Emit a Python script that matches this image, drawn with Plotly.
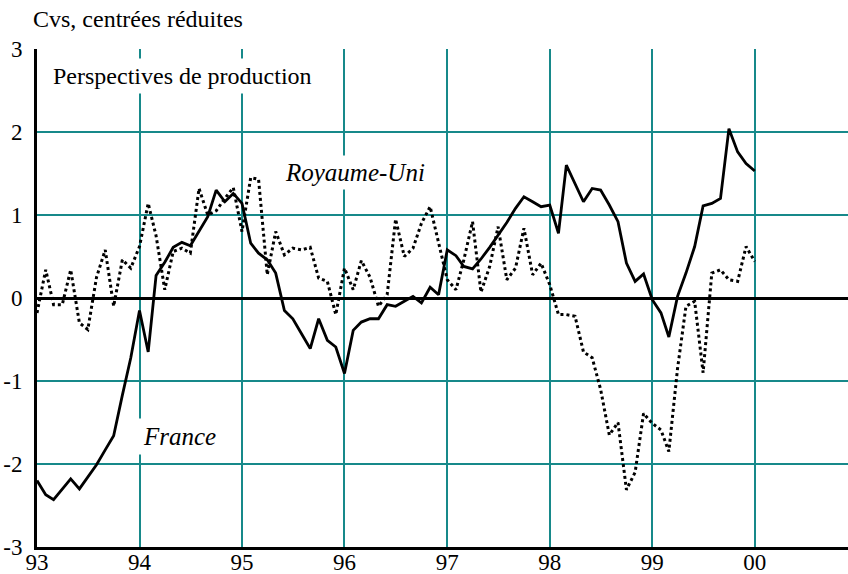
import plotly.graph_objects as go
import pandas as pd

# Enquete mensuelle, janvier 1993 - janvier 2000
mois = pd.date_range("1993-01-01", periods=85, freq="MS")

france = [-2.20, -2.37, -2.43, -2.30, -2.18, -2.30, -2.15, -2.01, -1.83, -1.66, -1.17, -0.72,
          -0.15, -0.65, 0.27, 0.43, 0.61, 0.67, 0.63, 0.80, 0.98, 1.30, 1.16, 1.26,
          1.14, 0.66, 0.54, 0.46, 0.30, -0.15, -0.25, -0.43, -0.61, -0.25, -0.51, -0.59,
          -0.91, -0.39, -0.29, -0.25, -0.25, -0.08, -0.10, -0.04, 0.02, -0.06, 0.13, 0.04,
          0.58, 0.51, 0.38, 0.35, 0.47, 0.61, 0.75, 0.91, 1.08, 1.22, 1.16, 1.10,
          1.12, 0.78, 1.60, 1.38, 1.16, 1.32, 1.30, 1.12, 0.92, 0.42, 0.20, 0.29,
          -0.02, -0.18, -0.47, 0.02, 0.30, 0.62, 1.11, 1.14, 1.20, 2.04, 1.76, 1.62,
          1.53]

royaume_uni = [-0.18, 0.34, -0.08, -0.08, 0.34, -0.30, -0.38, 0.25, 0.58, -0.10, 0.46, 0.36,
               0.62, 1.14, 0.75, 0.10, 0.56, 0.60, 0.54, 1.32, 1.00, 1.05, 1.20, 1.33,
               0.80, 1.45, 1.43, 0.28, 0.80, 0.52, 0.60, 0.58, 0.61, 0.24, 0.20, -0.20,
               0.36, 0.10, 0.45, 0.25, -0.10, 0.04, 0.95, 0.50, 0.60, 0.90, 1.10, 0.68,
               0.22, 0.10, 0.46, 0.92, 0.07, 0.38, 0.86, 0.22, 0.36, 0.84, 0.28, 0.42,
               0.16, -0.20, -0.20, -0.22, -0.65, -0.72, -1.10, -1.65, -1.50, -2.31, -2.10, -1.39,
               -1.51, -1.59, -1.85, -0.85, -0.10, -0.04, -0.90, 0.30, 0.34, 0.22, 0.20, 0.62,
               0.44]

annees = pd.date_range("1993-01-01", periods=8, freq="YS")
annees_txt = ["93", "94", "95", "96", "97", "98", "99", "00"]
y_vals = [-3, -2, -1, 0, 1, 2, 3]
y_txt = ["-3", "-2", "-1", "0", "1", "2", "3"]

serif = "Liberation Serif"
teal = "#17898a"

fig = go.Figure()

fig.add_trace(go.Scatter(x=mois, y=royaume_uni, mode="lines", name="Royaume-Uni",
                         line=dict(color="black", width=3, dash="dot")))
fig.add_trace(go.Scatter(x=mois, y=france, mode="lines", name="France",
                         line=dict(color="black", width=2.8)))

fig.update_xaxes(range=["1993-01-01", "2000-11-28"], tickvals=annees, ticktext=annees_txt,
                 showgrid=True, gridcolor=teal, gridwidth=1.6,
                 showline=True, linecolor="black", linewidth=3,
                 automargin=False, ticklabelstandoff=-8,
                 tickfont=dict(family=serif, size=23, color="black"))

fig.update_yaxes(range=[-3, 3], tickvals=y_vals, ticktext=y_txt,
                 showgrid=True, gridcolor=teal, gridwidth=1.6,
                 zeroline=True, zerolinecolor="black", zerolinewidth=2.5,
                 showline=True, linecolor="black", linewidth=3,
                 automargin=False, ticklabelstandoff=7,
                 tickfont=dict(family=serif, size=23, color="black"))

fig.add_annotation(text="Perspectives de production", xref="paper", yref="y",
                   x=0.0136, y=2.67, xanchor="left", yanchor="middle", showarrow=False,
                   bgcolor="white", borderpad=4,
                   font=dict(family=serif, size=24, color="black"))
fig.add_annotation(text="<i>Royaume-Uni</i>", x="1996-02-06", y=1.51, showarrow=False,
                   bgcolor="white", borderpad=3,
                   font=dict(family=serif, size=25, color="black"))
fig.add_annotation(text="<i>France</i>", x="1994-05-25", y=-1.67, showarrow=False,
                   bgcolor="white", borderpad=4,
                   font=dict(family=serif, size=25, color="black"))

fig.update_layout(width=848, height=574,
                  margin=dict(l=37, r=0, t=49, b=27),
                  plot_bgcolor="white", paper_bgcolor="white",
                  showlegend=False,
                  title=dict(text="Cvs, centrées réduites", x=33 / 848, xanchor="left",
                             xref="container", yref="container",
                             y=1 - 19 / 574, yanchor="middle", automargin=False,
                             font=dict(family=serif, size=24, color="black")))

fig.write_html("out.html", config={"displayModeBar": False},
               post_script="document.body.style.margin='0';")
